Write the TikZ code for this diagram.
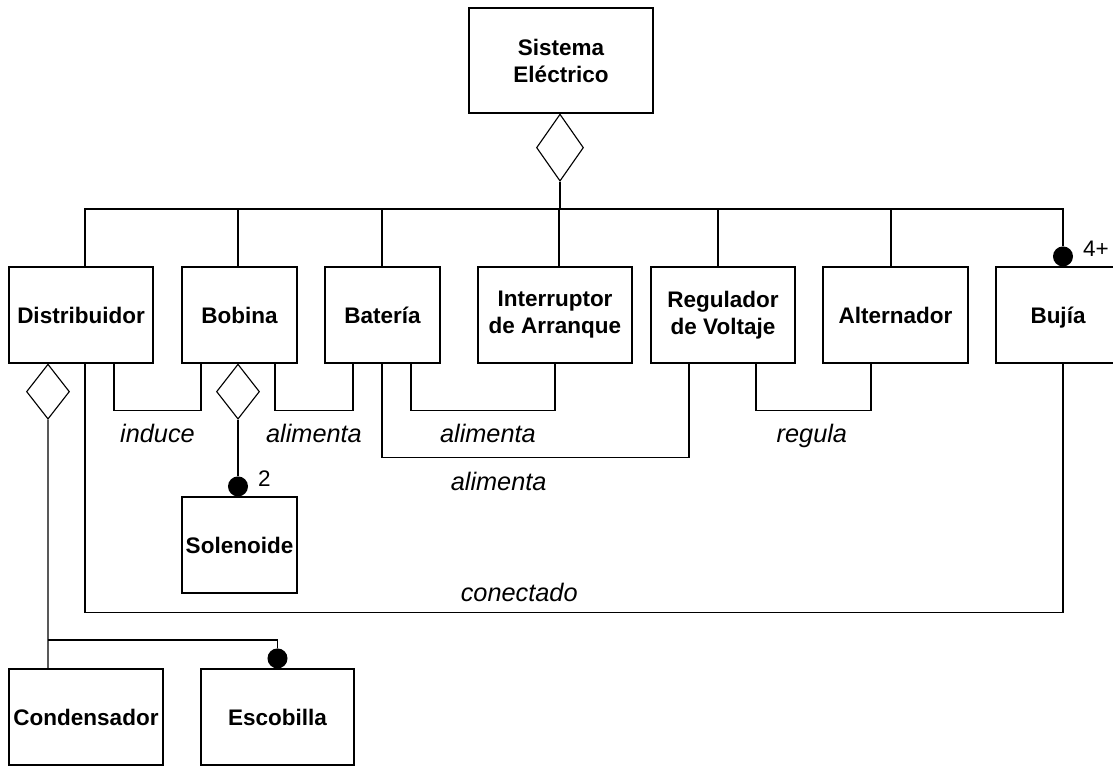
\documentclass[tikz,border=0pt]{standalone}
\usepackage{fontspec}
\setmainfont{Liberation Sans}
\usetikzlibrary{shapes, positioning, calc}
\tikzstyle{clase} = [rectangle, draw, inner sep=0pt, align=center, minimum height=2.4cm, font=\fontsize{16}{19.2}\selectfont\bfseries]
\tikzstyle{rombo} = [diamond, draw, inner sep=0pt, fill=white]
\tikzstyle{punto} = [circle, fill=black, inner sep=0pt, minimum size=0.5cm]
\tikzstyle{rol} = [font=\fontsize{18}{21}\selectfont\itshape, inner sep=0pt]
\tikzstyle{mult} = [font=\fontsize{16}{19}\selectfont, inner sep=0pt]

\begin{document}
\begin{tikzpicture}[x=0.025cm, y=-0.025cm, line width=0.8pt]
        \useasboundingbox (0,0) rectangle (1113,766);

        % Top: the whole system
        \node[clase, minimum width=4.6cm, minimum height=2.625cm] (sistema) at (561,60.5) {Sistema\\Eléctrico};
        \node[rombo, minimum width=1.175cm, minimum height=1.675cm, anchor=north] (sistema_rombo) at ([xshift=-0.025cm]sistema.south) {};

        % Middle row: the parts
        \node[clase, minimum width=3.6cm] (distribuidor) at (81,315) {Distribuidor};
        \node[clase, minimum width=2.875cm] (bobina) at (239.5,315) {Bobina};
        \node[clase, minimum width=2.875cm] (bateria) at (382.5,315) {Batería};
        \node[clase, minimum width=3.85cm] (interruptor) at (555,315) {Interruptor\\de Arranque};
        \node[clase, minimum width=3.6cm] (regulador) at (723,315) {Regulador\\de Voltaje};
        \node[clase, minimum width=3.625cm] (alternador) at (895.5,315) {Alternador};
        \node[clase, minimum width=3.1cm, text depth=0pt] (bujia) at (1058,315) {Bujía};

        % Lower parts
        \node[clase, minimum width=2.875cm] (solenoide) at (239.5,545) {Solenoide};
        \node[clase, minimum width=3.85cm] (condensador) at (86,717) {Condensador};
        \node[clase, minimum width=3.825cm] (escobilla) at (277.5,717) {Escobilla};

        \node[rombo, minimum width=1.075cm, minimum height=1.375cm, anchor=north] (bobina_rombo) at ([xshift=-0.0375cm]bobina.south) {};
        \node[rombo, minimum width=1.075cm, minimum height=1.375cm, anchor=north] (distribuidor_rombo) at ([xshift=-0.825cm]distribuidor.south) {};

        \node[punto] (bujia_punto) at ([xshift=0.125cm, yshift=0.25cm]bujia.north) {};
        \node[punto] (solenoide_punto) at ([xshift=-0.0375cm, yshift=0.25cm]solenoide.north) {};
        \node[punto] (escobilla_punto) at ([yshift=0.25cm]escobilla.north) {};
        \node[mult, anchor=base west] (bujia_mult) at ([xshift=0.225cm]bujia_punto.east) {4+};
        \node[mult, anchor=base west] (solenoide_mult) at ([xshift=0.225cm]solenoide_punto.east) {2};

        % Composition tree
        \coordinate (bus) at (sistema_rombo.south |- 0,209);
        \draw (sistema_rombo.south) -- (bus);
        \draw (bus) -| ([xshift=0.1cm]distribuidor.north);
        \draw (bus) -| ([xshift=-0.0375cm]bobina.north);
        \draw (bus) -| ([xshift=-0.0125cm]bateria.north);
        \draw (bus) -| ([xshift=0.1cm]interruptor.north);
        \draw (bus) -| ([xshift=-0.125cm]regulador.north);
        \draw (bus) -| ([xshift=-0.1125cm]alternador.north);
        \draw (bus) -| (bujia_punto.north);

        % Associations
        \draw ([xshift=0.825cm]distribuidor.south) -- ++(0,47) -| node[rol, below=0.325cm, pos=0.25] {induce} ([xshift=-0.9625cm]bobina.south);
        \draw ([xshift=0.8875cm]bobina.south) -- ++(0,47) -| node[rol, below=0.325cm, pos=0.25] {alimenta} ([xshift=-0.7375cm]bateria.south);
        \draw ([xshift=0.7125cm]bateria.south) -- ++(0,47) -| node[rol, below=0.325cm, pos=0.267] {alimenta} (interruptor.south);
        \draw ([xshift=-0.0125cm]bateria.south) -- ++(0,94) -| node[rol, below=0.35cm, pos=0.19] {alimenta} ([xshift=-0.85cm]regulador.south);
        \draw ([xshift=0.825cm]regulador.south) -- ++(0,47) -| node[rol, below=0.325cm, pos=0.243] {regula} ([xshift=-0.6125cm]alternador.south);
        \draw ([xshift=0.1cm]distribuidor.south) -- ++(0,249) -| node[rol, above=0.25cm, pos=0.222] {conectado} ([xshift=0.125cm]bujia.south);

        % Sub-parts
        \draw (bobina_rombo.south) -- (solenoide_punto.north);
        \draw (distribuidor_rombo.south) -- ([xshift=-0.95cm]condensador.north);
        \coordinate (rama) at (distribuidor_rombo.south |- 0,640);
        \draw (rama) -| (escobilla_punto.north);
    \end{tikzpicture}
\end{document}
